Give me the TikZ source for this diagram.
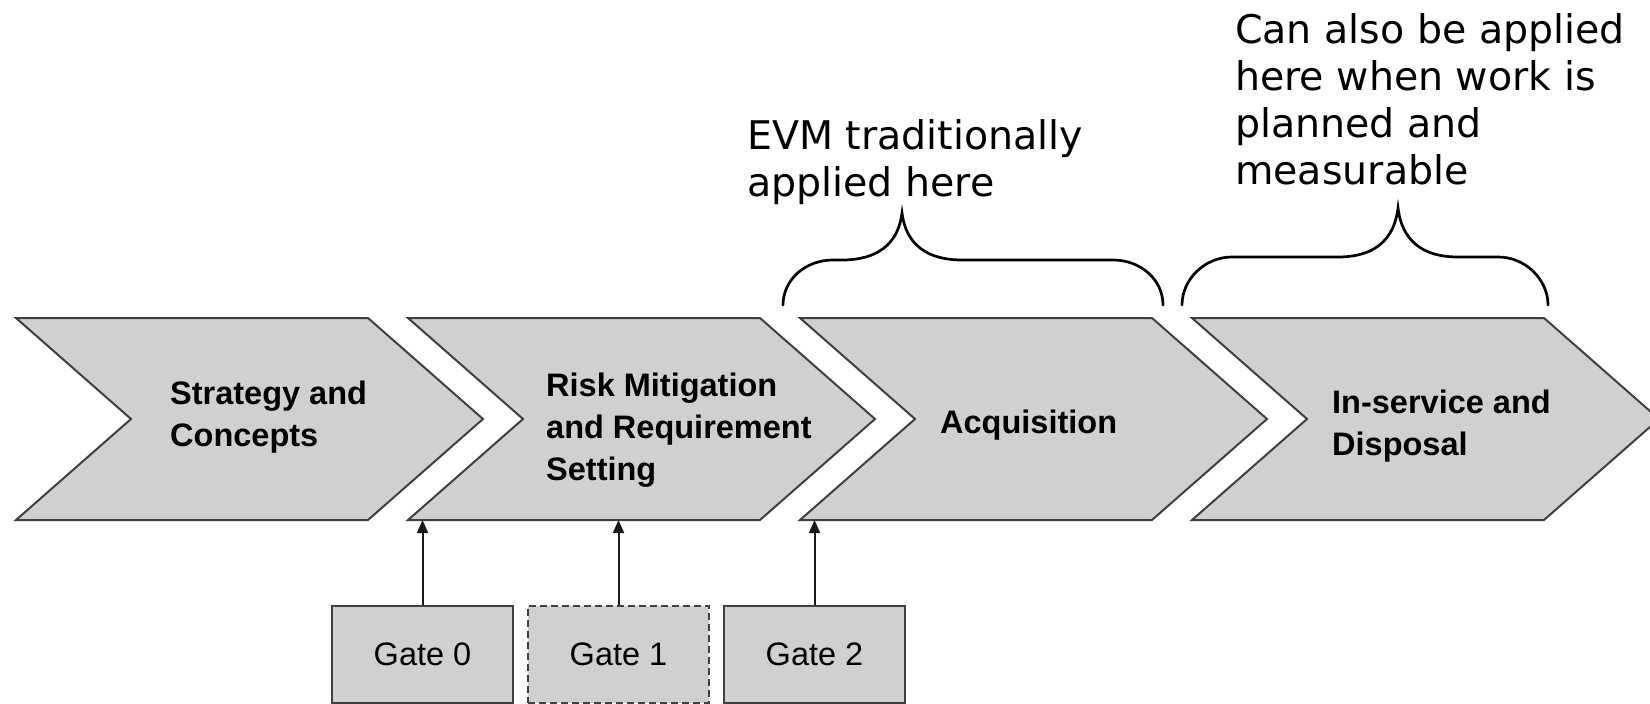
\documentclass[tikz,border=0pt]{standalone}
\usepackage{fontspec}
\setmainfont{Liberation Sans}
\newfontfamily\notefont{DejaVu Sans}
\usetikzlibrary{arrows.meta}
\definecolor{phasegray}{RGB}{208,208,208}
\definecolor{edgegray}{RGB}{64,64,64}

% curly brace: #1 left x, #2 tip x, #3 right x, #4 tip y, #5 bar y, #6 end y
\newcommand\curlybrace[6]{%
  \draw[brace] (#1,#6) .. controls (#1,#6-25) and (#1+22,#5) .. (#1+50,#5)
    -- (#2-60,#5) .. controls (#2-35,#5) and (#2-5,#5-8) .. (#2,#4)
    .. controls (#2+5,#5-8) and (#2+35,#5) .. (#2+60,#5)
    -- (#3-50,#5) .. controls (#3-22,#5) and (#3,#6-25) .. (#3,#6);}

\begin{document}
\begin{tikzpicture}[x=1pt,y=-1pt,
  phase/.style={fill=phasegray,draw=edgegray,line width=2pt,line join=miter},
  % labels are placed at the baseline of their last line
  phaselabel/.style={anchor=base west,align=left,inner sep=0pt,
    font=\bfseries\fontsize{32.5}{42}\selectfont},
  gatebox/.style={fill=phasegray,draw=edgegray,line width=2pt,
    minimum width=181pt,minimum height=97pt,inner sep=0pt,
    font=\fontsize{32.5}{38}\selectfont},
  gatearrow/.style={draw=black!90,line width=2pt,-{Triangle[width=11pt,length=13pt]}},
  note/.style={anchor=base west,align=left,inner sep=0pt,
    font=\notefont\fontsize{39.5}{47}\selectfont},
  brace/.style={draw=black,line width=2.7pt,line cap=round}
]
\clip (0,0) rectangle (1650,704);
\fill[white] (0,0) rectangle (1650,704);

% the four phase chevrons
\foreach \L [count=\i] in {16,408,800,1192} {
  \draw[phase] (\L,318) -- ++(352,0) -- ++(115,101) -- ++(-115,101)
    -- ++(-352,0) -- ++(115,-101) -- cycle;
  \coordinate (phase\i) at (\L,520);
}

\node[phaselabel] (strategy) at (170,446) {Strategy and\\Concepts};
\node[phaselabel] (risk) at (546,480) {Risk Mitigation\\and Requirement\\Setting};
\node[phaselabel] (acquisition) at (940,433) {Acquisition};
\node[phaselabel] (inservice) at (1332,455) {In-service and\\Disposal};

% decision gates
\node[gatebox] (g0) at (422.5,654) {Gate 0};
\node[gatebox,dash pattern=on 7pt off 4pt] (g1) at (618.5,654) {Gate 1};
\node[gatebox] (g2) at (814.5,654) {Gate 2};

\draw[gatearrow] (g0.north) -- (g0.north |- phase2);
\draw[gatearrow] (g1.north) -- (g1.north |- phase2);
\draw[gatearrow] (g2.north) -- (g2.north |- phase3);

% braces and notes
\curlybrace{783}{902}{1163}{213}{260}{305}
\curlybrace{1182}{1398}{1548}{208}{257}{305}

\node[note] (evm) at (747,196) {EVM traditionally\\applied here};
\node[note] (also) at (1235,184) {Can also be applied\\here when work is\\planned and\\measurable};
\end{tikzpicture}
\end{document}
